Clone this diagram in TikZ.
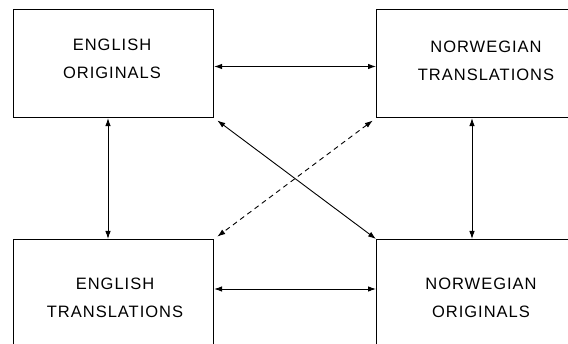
\documentclass[tikz,border=0pt]{standalone}
\usepackage{fontspec}
\newfontfamily\lblfont[LetterSpace=6]{Liberation Sans}
\usetikzlibrary{arrows.meta}
\begin{document}
\begin{tikzpicture}[x=1pt,y=-1pt,
  box/.style={draw=black,line width=1.1pt,minimum width=#1,minimum height=108pt,inner sep=0pt,anchor=north west},
  lbl/.style={align=center,inner sep=0pt,font=\lblfont\fontsize{16.5}{28}\selectfont},
  arr/.style={line width=0.9pt,{Latex[length=8pt,width=5.5pt]}-{Latex[length=8pt,width=5.5pt]}}]
\fill[white] (0,0) rectangle (568,344);
\useasboundingbox (0,0) rectangle (568,344);
\node[box=200pt] (tl) at (13,9) {};
\node[box=220pt] (tr) at (376,9) {};
\node[box=200pt] (bl) at (13,239) {};
\node[box=220pt] (br) at (376,239) {};
\node[lbl] (tlt) at (112,59) {ENGLISH\\ORIGINALS};
\node[lbl] (trt) at (486,61) {NORWEGIAN\\TRANSLATIONS};
\node[lbl] (blt) at (115,298) {ENGLISH\\TRANSLATIONS};
\node[lbl] (brt) at (481,297.5) {NORWEGIAN\\ORIGINALS};
\draw[arr] (tl.east |- 0,66.5) -- (tr.west |- 0,66.5);
\draw[arr] (bl.east |- 0,289) -- (br.west |- 0,289);
\draw[arr] (tl.south -| 108,0) -- (bl.north -| 108,0);
\draw[arr] (tr.south -| 472,0) -- (br.north -| 472,0);
\draw[arr,shorten <=4pt] (tl.south east) -- (br.north west);
\draw[arr,dash pattern=on 5pt off 4pt,shorten <=4pt,shorten >=4pt] (tr.south west) -- (bl.north east);
\end{tikzpicture}
\end{document}
